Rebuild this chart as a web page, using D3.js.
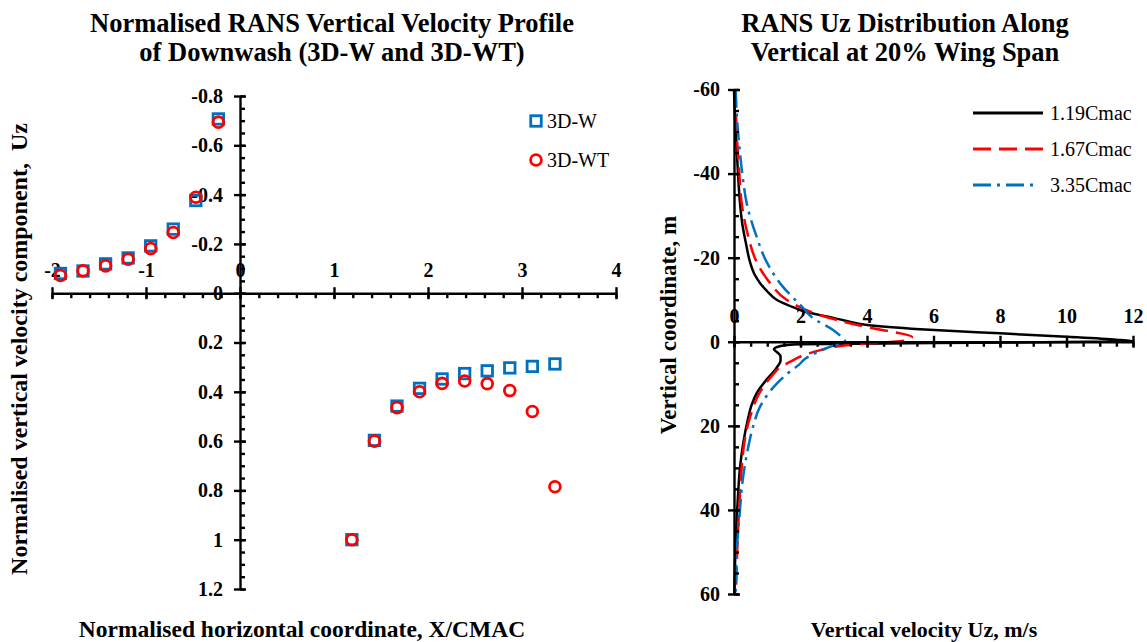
<!DOCTYPE html>
<html>
<head>
<meta charset="utf-8">
<script src="https://cdn.jsdelivr.net/npm/d3@7"></script>
<style>
  html, body { margin: 0; padding: 0; background: #fff; }
  svg { display: block; }
  text { white-space: pre; }
</style>
</head>
<body>
<svg id="chart" width="1147" height="642"></svg>
<script>
'use strict';

// ---- left chart: normalised downwash profile ----
const xcmac = [-1.91, -1.67, -1.43, -1.19, -0.95, -0.71, -0.47, -0.23,
    1.19, 1.43, 1.67, 1.91, 2.15, 2.39, 2.63, 2.87, 3.11, 3.35];
const uz3dW = [-0.080, -0.090, -0.119, -0.143, -0.192, -0.260, -0.376, -0.707,
    1.0, 0.597, 0.458, 0.386, 0.348, 0.326, 0.315, 0.303, 0.297, 0.287];
const uz3dWT = [-0.072, -0.091, -0.111, -0.138, -0.181, -0.246, -0.389, -0.694,
    1.0, 0.600, 0.464, 0.400, 0.366, 0.356, 0.367, 0.395, 0.480, 0.785];
const leftSeries = ['3D-W', '3D-WT'];
const leftXTicks = [-2, -1, 0, 1, 2, 3, 4];
const leftYTicks = [-0.8, -0.6, -0.4, -0.2, 0, 0.2, 0.4, 0.6, 0.8, 1, 1.2];

// ---- right chart: Uz along the vertical at 20% span ----
const z119 = [-60, -50, -46, -40, -33, -28, -23, -19, -16, -14, -12, -10, -8, -7, -6, -5, -4, -3, -2, -1.2, -0.5, -0.1,
    0.3, 0.6, 1.0, 1.8, 2.5, 3.5, 4.5, 6, 7.5, 9, 12, 15, 18, 24, 30, 38, 46, 53, 60];
const uz119 = [0.0, 0.05, 0.08, 0.12, 0.18, 0.25, 0.37, 0.48, 0.62, 0.78, 1.0, 1.28, 1.85, 2.2, 2.8, 3.35, 4.0, 5.6, 8.0, 10.0, 11.5, 12.0,
    6.0, 2.0, 1.4, 1.2, 1.3, 1.4, 1.4, 1.3, 1.15, 0.98, 0.7, 0.53, 0.43, 0.28, 0.18, 0.11, 0.06, 0.03, 0.01];
const z167 = [-60, -50, -40, -33, -25, -19, -14, -10, -7.5, -5.2, -3.2, -2, -1.2, -0.4, 0, 0.4, 1.0, 2, 3.5, 4.8, 6, 8, 12, 18, 23, 30, 39, 49, 60];
const uz167 = [0.04, 0.08, 0.16, 0.23, 0.43, 0.68, 1.08, 1.58, 2.18, 3.08, 4.18, 5.0, 5.35, 5.2, 4.8, 4.0, 3.2, 2.6, 2.0, 1.68, 1.4, 1.15, 0.78, 0.48, 0.33, 0.23, 0.16, 0.1, 0.06];
const z335 = [-60, -52, -45, -38, -33, -25, -19, -13, -8.7, -5.6, -2.8, -1, 0, 1, 2.5, 4, 5.5, 7, 10, 15.5, 20, 25, 33, 42, 50, 60];
const uz335 = [0.05, 0.1, 0.18, 0.28, 0.38, 0.68, 0.98, 1.48, 2.0, 2.38, 2.98, 3.25, 3.35, 2.95, 2.5, 2.15, 1.95, 1.7, 1.28, 0.78, 0.58, 0.43, 0.26, 0.16, 0.08, 0.05];
const rightSeries = ['1.19Cmac', '1.67Cmac', '3.35Cmac'];
const rightXTicks = [0, 2, 4, 6, 8, 10, 12];
const rightYTicks = [-60, -40, -20, 0, 20, 40, 60];

const FONT = '"Times New Roman", "Liberation Serif", serif';
const BLUE = '#0070C0';
const RED = '#FF0000';
const AXIS_W = 2.4;

const svg = d3.select('#chart');

function fmt(d) {
    // hyphen, not unicode minus
    return String(+d.toFixed(2));
}

function range(a, b, step) {
    const out = [];
    const n = Math.round((b - a) / step);
    for (let i = 0; i <= n; i++) out.push(+(a + i * step).toFixed(4));
    return out;
}

function styleAxis(g) {
    g.attr('font-family', FONT).attr('font-size', 20).attr('font-weight', 'bold');
    g.selectAll('path.domain').attr('stroke', '#000').attr('stroke-width', AXIS_W);
    g.selectAll('.tick line').attr('stroke', '#000').attr('stroke-width', AXIS_W);
    g.selectAll('.tick text').attr('fill', '#000');
}

// x axis crossing at y=yPos: majors cross the line, minors hang below, labels above
function xAxis(x, yPos, majors, minors, pad) {
    const gMin = svg.append('g').attr('transform', 'translate(0,' + yPos + ')')
        .call(d3.axisBottom(x).tickValues(minors).tickSizeInner(5).tickSizeOuter(0).tickFormat(''));
    gMin.select('.domain').remove();
    styleAxis(gMin);
    const g = svg.append('g').attr('transform', 'translate(0,' + yPos + ')')
        .call(d3.axisTop(x).tickValues(majors).tickSizeInner(6).tickSizeOuter(0).tickPadding(pad).tickFormat(fmt));
    g.selectAll('.tick line').attr('y1', 6);
    styleAxis(g);
}

// y axis at x=xPos: majors cross, minors point right, labels on the left
function yAxis(y, xPos, majors, minors, pad) {
    const gMin = svg.append('g').attr('transform', 'translate(' + xPos + ',0)')
        .call(d3.axisRight(y).tickValues(minors).tickSizeInner(5).tickSizeOuter(0).tickFormat(''));
    gMin.select('.domain').remove();
    styleAxis(gMin);
    const g = svg.append('g').attr('transform', 'translate(' + xPos + ',0)')
        .call(d3.axisLeft(y).tickValues(majors).tickSizeInner(6).tickSizeOuter(0).tickPadding(pad).tickFormat(fmt));
    g.selectAll('.tick line').attr('x1', 6);
    styleAxis(g);
}

function addText(x, y, str, opts) {
    opts = opts || {};
    const t = svg.append('text')
        .attr('x', x).attr('y', y)
        .attr('font-family', FONT)
        .attr('font-size', opts.size || 20)
        .attr('font-weight', opts.bold === false ? 'normal' : 'bold')
        .attr('text-anchor', opts.anchor || 'middle')
        .attr('fill', '#000')
        .text(str);
    if (opts.rotate) t.attr('transform', 'rotate(-90,' + x + ',' + y + ')');
    return t;
}

// ================= left chart =================
const xL = d3.scaleLinear().domain([-2, 4]).range([52, 616]);
const yL = d3.scaleLinear().domain([-0.8, 1.2]).range([96, 589]);

xAxis(xL, yL(0), leftXTicks, range(-2, 4, 0.2), 10);
yAxis(yL, xL(0), leftYTicks, range(-0.8, 1.2, 0.05), 11);

addText(332, 32, 'Normalised RANS Vertical Velocity Profile', { size: 26.5 });
addText(332, 61, 'of Downwash (3D-W and 3D-WT)', { size: 26.5 });
addText(302, 637, 'Normalised horizontal coordinate, X/CMAC', { size: 23.5 });
addText(27, 349, 'Normalised vertical velocity component,  Uz', { rotate: true, size: 24 });

const ptsW = xcmac.map(function(d, i) { return { x: d, y: uz3dW[i] }; });
const ptsWT = xcmac.map(function(d, i) { return { x: d, y: uz3dWT[i] }; });
const SQ = 10.5;

svg.append('g').selectAll('rect').data(ptsW).enter().append('rect')
    .attr('x', function(d) { return xL(d.x) - SQ / 2; })
    .attr('y', function(d) { return yL(d.y) - SQ / 2; })
    .attr('width', SQ).attr('height', SQ)
    .attr('fill', 'none').attr('stroke', BLUE).attr('stroke-width', 2.8);

svg.append('g').selectAll('circle').data(ptsWT).enter().append('circle')
    .attr('cx', function(d) { return xL(d.x); })
    .attr('cy', function(d) { return yL(d.y); })
    .attr('r', 5.4)
    .attr('fill', 'none').attr('stroke', RED).attr('stroke-width', 2.8);

// legend
svg.append('rect').attr('x', 536 - SQ / 2).attr('y', 121 - SQ / 2).attr('width', SQ).attr('height', SQ)
    .attr('fill', 'none').attr('stroke', BLUE).attr('stroke-width', 2.8);
addText(547, 128, leftSeries[0], { bold: false, anchor: 'start' });
svg.append('circle').attr('cx', 536).attr('cy', 160).attr('r', 5.4)
    .attr('fill', 'none').attr('stroke', RED).attr('stroke-width', 2.8);
addText(547, 167, leftSeries[1], { bold: false, anchor: 'start' });

// ================= right chart =================
const xR = d3.scaleLinear().domain([0, 12]).range([734, 1133]);
const yR = d3.scaleLinear().domain([-60, 60]).range([89.5, 594]);

addText(905, 32, 'RANS Uz Distribution Along', { size: 26.5 });
addText(905, 61, 'Vertical at 20% Wing Span', { size: 26.5 });
addText(924, 637, 'Vertical velocity Uz, m/s', { size: 22 });
addText(676, 325, 'Vertical coordinate, m', { rotate: true, size: 23 });

const curves = [
    { name: rightSeries[0], z: z119, u: uz119, color: '#000', dash: null },
    { name: rightSeries[1], z: z167, u: uz167, color: RED, dash: '18,8' },
    { name: rightSeries[2], z: z335, u: uz335, color: BLUE, dash: '18,6,3,6' }
];

const line = d3.line()
    .x(function(d) { return xR(d.u); })
    .y(function(d) { return yR(d.z); })
    .curve(d3.curveMonotoneY);

svg.append('g').selectAll('path').data(curves).enter().append('path')
    .attr('d', function(c) { return line(c.z.map(function(z, i) { return { z: z, u: c.u[i] }; })); })
    .attr('fill', 'none')
    .attr('stroke', function(c) { return c.color; })
    .attr('stroke-width', 2.5)
    .attr('stroke-dasharray', function(c) { return c.dash; });

xAxis(xR, yR(0), rightXTicks, range(0, 12, 0.5), 13);
yAxis(yR, xR(0), rightYTicks, range(-60, 60, 5), 8);

// legend
const lg = svg.append('g').selectAll('g').data(curves).enter().append('g')
    .attr('transform', function(c, i) { return 'translate(0,' + (113 + i * 36) + ')'; });
lg.append('line')
    .attr('x1', 973).attr('x2', function(c, i) { return i === 2 ? 1036 : 1043; })
    .attr('y1', 0).attr('y2', 0)
    .attr('stroke', function(c) { return c.color; })
    .attr('stroke-width', 3)
    .attr('stroke-dasharray', function(c) { return c.dash; });
lg.append('text')
    .attr('x', 1050).attr('y', 7)
    .attr('font-family', FONT).attr('font-size', 20)
    .attr('fill', '#000')
    .text(function(c) { return c.name; });
</script>
</body>
</html>
